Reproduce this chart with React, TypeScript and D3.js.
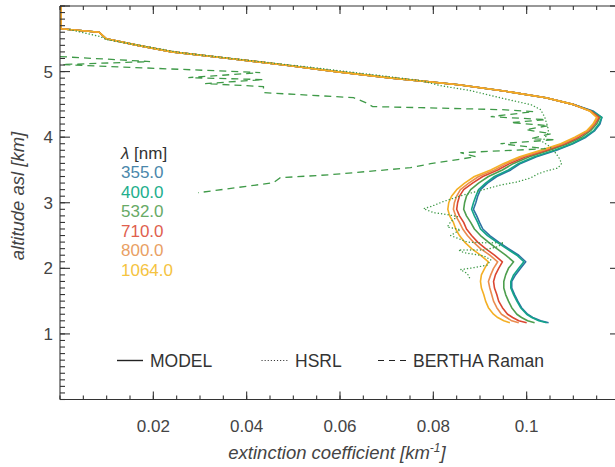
import React from "react";
import * as d3 from "d3";

const W = 615;
const H = 467;

// model profile above ~4.5 km, identical for every wavelength
const upperAlt = [6.0, 5.652, 5.6, 5.5, 5.4, 5.3, 5.2, 5.1, 5.0, 4.9, 4.8, 4.7, 4.6, 4.5];
const upperExt = [0.0002, 0.0002, 0.0084, 0.0099, 0.0167, 0.024, 0.0363, 0.0481, 0.0592, 0.0712, 0.0854, 0.0955, 0.1041, 0.1099];

// model profile below 4.5 km, one column per wavelength
const lowerAlt = [4.4, 4.3, 4.2, 4.1, 4.0, 3.9, 3.8, 3.7, 3.6, 3.5, 3.4, 3.3, 3.2, 3.1, 3.0, 2.9, 2.8, 2.7, 2.6, 2.5, 2.4, 2.3, 2.2, 2.1, 2.0, 1.9, 1.8, 1.7, 1.6, 1.5, 1.4, 1.3, 1.25, 1.2, 1.17];
const ext355 = [0.1142, 0.1161, 0.1157, 0.1146, 0.1127, 0.1099, 0.1064, 0.1021, 0.0987, 0.0966, 0.0936, 0.0916, 0.0901, 0.0895, 0.0891, 0.0886, 0.0893, 0.0899, 0.0906, 0.0921, 0.094, 0.0961, 0.0983, 0.0998, 0.0987, 0.0976, 0.0968, 0.0968, 0.0974, 0.0981, 0.0989, 0.1002, 0.1013, 0.103, 0.1047];
const ext400 = [0.1139, 0.1161, 0.1155, 0.1144, 0.1124, 0.1097, 0.106, 0.1017, 0.0983, 0.0961, 0.0931, 0.0912, 0.0897, 0.0891, 0.0886, 0.0882, 0.0888, 0.0895, 0.0901, 0.0916, 0.0936, 0.0957, 0.0979, 0.0994, 0.0983, 0.0972, 0.0966, 0.0966, 0.0972, 0.0979, 0.0987, 0.1, 0.1011, 0.1026, 0.1043];
const ext532 = [0.1137, 0.1157, 0.115, 0.1137, 0.1118, 0.1088, 0.1049, 0.1006, 0.0972, 0.0948, 0.0918, 0.0897, 0.088, 0.0871, 0.0867, 0.0865, 0.0871, 0.088, 0.0888, 0.0901, 0.0918, 0.0936, 0.0955, 0.0972, 0.0961, 0.0955, 0.0951, 0.0951, 0.0955, 0.0961, 0.0968, 0.0979, 0.0989, 0.1002, 0.1017];
const ext710 = [0.1137, 0.1155, 0.1146, 0.1133, 0.1112, 0.1082, 0.1043, 0.0998, 0.0964, 0.0938, 0.0906, 0.0884, 0.0865, 0.0856, 0.0852, 0.085, 0.0856, 0.0865, 0.0871, 0.0882, 0.0895, 0.0912, 0.0931, 0.0948, 0.094, 0.0933, 0.0929, 0.0931, 0.0936, 0.094, 0.0948, 0.0959, 0.097, 0.0983, 0.1];
const ext800 = [0.1135, 0.1152, 0.1144, 0.1131, 0.1107, 0.1077, 0.1036, 0.0991, 0.0957, 0.0931, 0.0897, 0.0876, 0.0858, 0.085, 0.0845, 0.0843, 0.0848, 0.0856, 0.0863, 0.0873, 0.0886, 0.0901, 0.0921, 0.0938, 0.0929, 0.0923, 0.0918, 0.0921, 0.0925, 0.0929, 0.0936, 0.0946, 0.0957, 0.0968, 0.0983];
const ext1064 = [0.1135, 0.115, 0.1142, 0.1129, 0.1103, 0.1073, 0.103, 0.0985, 0.0951, 0.0923, 0.0888, 0.0867, 0.085, 0.0839, 0.0833, 0.0831, 0.0835, 0.0843, 0.0848, 0.0856, 0.0867, 0.0882, 0.0901, 0.0918, 0.091, 0.0903, 0.0901, 0.0903, 0.0908, 0.0912, 0.0918, 0.0929, 0.0938, 0.0951, 0.0964];

const wavelengths = ["355.0", "400.0", "532.0", "710.0", "800.0", "1064.0"];
const modelExt = [ext355, ext400, ext532, ext710, ext800, ext1064];
const lineColors = ["#2c73a3", "#13a589", "#4e9e4e", "#db4631", "#ea8b4f", "#f4af24"];
const labelColors = ["#4a87ab", "#22ae8c", "#68aa66", "#e0604e", "#e9a064", "#f5c340"];

// HSRL (532 nm), dotted
const hsrlAlt = [5.64, 5.535, 5.489, 5.29, 5.168, 5.061, 4.939, 4.863, 4.786, 4.71, 4.588, 4.496, 4.42, 4.3, 4.16, 4.07, 3.99, 3.93, 3.87, 3.76, 3.69, 3.6, 3.53, 3.49, 3.44, 3.38, 3.32, 3.27, 3.2, 3.12, 3.02, 2.94, 2.91, 2.85, 2.82, 2.79, 2.71, 2.63, 2.59, 2.5, 2.4, 2.39, 2.39, 2.33, 2.28, 2.28, 2.24, 2.19, 2.13, 2.05, 2.01, 1.98, 1.92, 1.82];
const hsrlExt = [0.0021, 0.0086, 0.0099, 0.0258, 0.0408, 0.0543, 0.0687, 0.0773, 0.0815, 0.088, 0.0951, 0.1009, 0.103, 0.1039, 0.1045, 0.1047, 0.1039, 0.1034, 0.1047, 0.1062, 0.1069, 0.1075, 0.1067, 0.1045, 0.1024, 0.1009, 0.0981, 0.0944, 0.0908, 0.0865, 0.0822, 0.0794, 0.0779, 0.08, 0.083, 0.0852, 0.0837, 0.083, 0.0858, 0.0837, 0.0873, 0.0901, 0.0951, 0.0938, 0.0908, 0.0854, 0.0865, 0.0908, 0.0923, 0.0916, 0.0886, 0.0858, 0.0873, 0.088];

// BERTHA Raman (532 nm), dashed
const ramanAlt = [5.229, 5.153, 5.107, 4.985, 4.908, 4.878, 4.817, 4.771, 4.679, 4.603, 4.527, 4.466, 4.45, 4.42, 4.389, 4.313, 4.267, 4.221, 4.176, 4.115, 4.053, 3.977, 3.962, 3.901, 3.824, 3.763, 3.702, 3.595, 3.534, 3.427, 3.382, 3.305, 3.153];
const ramanExt = [0.0, 0.0193, 0.0004, 0.0429, 0.0275, 0.0436, 0.0311, 0.0436, 0.0436, 0.0629, 0.0655, 0.067, 0.0773, 0.0944, 0.1015, 0.0923, 0.1041, 0.0966, 0.1047, 0.0998, 0.1052, 0.1009, 0.1062, 0.0944, 0.1041, 0.0858, 0.0891, 0.0794, 0.0751, 0.0579, 0.0472, 0.0457, 0.0296];

const xLabels = ["0.02", "0.04", "0.06", "0.08", "0.1"];
const yLabels = ["1", "2", "3", "4", "5"];

const font = "'Liberation Sans', Arial, Helvetica, sans-serif";

export default function App() {
  const x = d3.scaleLinear().domain([0, 0.12]).range([60, 620]);
  const y = d3.scaleLinear().domain([0, 6]).range([399.5, 6]);
  const line = d3
    .line<[number, number]>()
    .x((d) => x(d[0]))
    .y((d) => y(d[1]));

  const upper: [number, number][] = upperExt.map((e, i) => [e, upperAlt[i]]);
  const hsrl: [number, number][] = hsrlExt.map((e, i) => [e, hsrlAlt[i]]);
  const raman: [number, number][] = ramanExt.map((e, i) => [e, ramanAlt[i]]);

  const xMinor = d3.range(0, 0.1201, 0.005);
  const xMajor = d3.range(0.02, 0.1201, 0.02);
  const yMinor = d3.range(0, 6.001, 0.1);
  const yMajor = d3.range(1, 6.001, 1);
  const [x0, x1] = x.range();
  const [y0, y1] = y.range();
  const axisColor = "#333";

  return (
    <svg width={W} height={H} style={{ position: "absolute", left: 0, top: 0, background: "#fff" }} fontFamily={font}>
      {/* model curves */}
      {modelExt.map((arr, k) => {
        const pts: [number, number][] = upper.concat(arr.map((e, i) => [e, lowerAlt[i]] as [number, number]));
        return <path key={k} d={line(pts) || ""} fill="none" stroke={lineColors[k]} strokeWidth={1.6} strokeLinejoin="round" />;
      })}
      <path d={line(hsrl) || ""} fill="none" stroke="#3f9a48" strokeWidth={1.4} strokeDasharray="0.1,3.2" strokeLinecap="round" />
      <path d={line(raman) || ""} fill="none" stroke="#3f9a48" strokeWidth={1.3} strokeDasharray="7,5" />

      {/* frame */}
      <g stroke={axisColor} strokeWidth={1.1}>
        <line x1={x0} x2={x1} y1={y0} y2={y0} />
        <line x1={x0} x2={x1} y1={y1} y2={y1} />
        <line x1={x0} x2={x0} y1={y0} y2={y1} />
        <line x1={x1} x2={x1} y1={y0} y2={y1} />
        {xMinor.map((v, i) => (
          <g key={"xm" + i}>
            <line x1={x(v)} x2={x(v)} y1={y0} y2={y0 - 4} />
            <line x1={x(v)} x2={x(v)} y1={y1} y2={y1 + 4} />
          </g>
        ))}
        {xMajor.map((v, i) => (
          <g key={"xM" + i}>
            <line x1={x(v)} x2={x(v)} y1={y0} y2={y0 - 8} />
            <line x1={x(v)} x2={x(v)} y1={y1} y2={y1 + 8} />
          </g>
        ))}
        {yMinor.map((v, i) => (
          <g key={"ym" + i}>
            <line x1={x0} x2={x0 + 5} y1={y(v)} y2={y(v)} />
            <line x1={x1} x2={x1 - 5} y1={y(v)} y2={y(v)} />
          </g>
        ))}
        {yMajor.map((v, i) => (
          <g key={"yM" + i}>
            <line x1={x0} x2={x0 + 10} y1={y(v)} y2={y(v)} />
            <line x1={x1} x2={x1 - 10} y1={y(v)} y2={y(v)} />
          </g>
        ))}
      </g>

      {/* tick labels */}
      <g fill="#444" fontSize={17}>
        {xLabels.map((t, i) => (
          <text key={t} x={x(xMajor[i])} y={432} textAnchor="middle">
            {t}
          </text>
        ))}
        {yLabels.map((t, i) => (
          <text key={t} x={53} y={y(yMajor[i]) + 6} textAnchor="end">
            {t}
          </text>
        ))}
      </g>

      {/* axis titles */}
      <text x={337} y={459} textAnchor="middle" fontSize={18.5} fontStyle="italic" fill="#444">
        extinction coefficient [km
        <tspan fontSize={12} dy={-7}>-1</tspan>
        <tspan dy={7}>]</tspan>
      </text>
      <text transform="translate(24,196) rotate(-90)" textAnchor="middle" fontSize={18.5} fontStyle="italic" fill="#444">
        altitude asl [km]
      </text>

      {/* wavelength legend */}
      <text x={121} y={159} fontSize={17} fill="#333">
        <tspan fontStyle="italic">λ</tspan> [nm]
      </text>
      {wavelengths.map((w, i) => (
        <text key={w} x={121} y={178 + i * 19.5} fontSize={17} fill={labelColors[i]}>
          {w}
        </text>
      ))}

      {/* line style legend */}
      <g stroke="#222" strokeWidth={1.4}>
        <line x1={117} x2={143} y1={360.5} y2={360.5} />
        <line x1={262} x2={288} y1={360.5} y2={360.5} strokeDasharray="0.1,3" strokeLinecap="round" strokeWidth={1.2} />
        <line x1={378} x2={407} y1={360.5} y2={360.5} strokeDasharray="6,5" strokeWidth={1.2} />
      </g>
      <g fontSize={17.5} fill="#333">
        <text x={150} y={367}>MODEL</text>
        <text x={295} y={367}>HSRL</text>
        <text x={413} y={367}>BERTHA Raman</text>
      </g>
    </svg>
  );
}
